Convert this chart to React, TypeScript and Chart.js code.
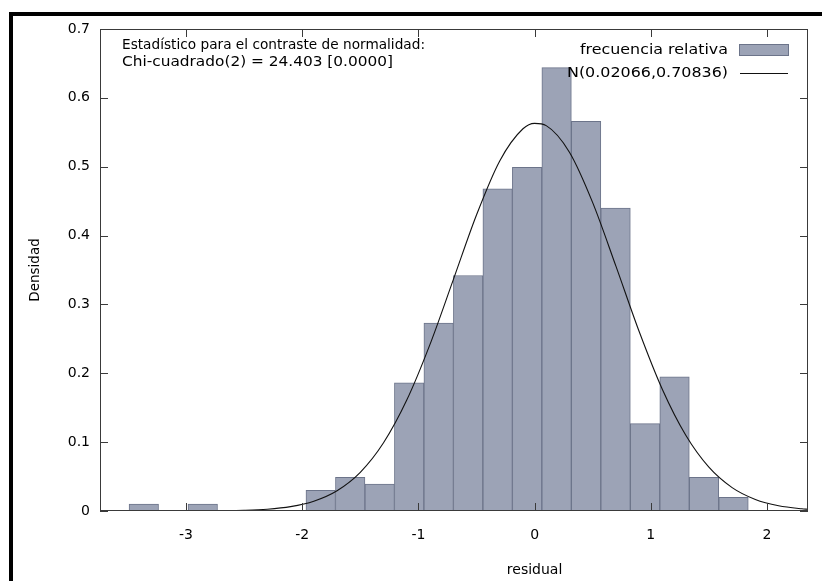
import React, { useEffect, useRef } from "react";
import { Chart, registerables } from "chart.js";

Chart.register(...registerables);

// Histogram bins (centres) and relative-frequency densities
const BIN_CENTERS = [
  -3.3631, -3.1094, -2.8556, -2.6019, -2.3481, -2.0943, -1.8406, -1.5868,
  -1.3331, -1.0793, -0.8256, -0.5718, -0.318, -0.0643, 0.1895, 0.4432,
  0.697, 0.9507, 1.2045, 1.4582, 1.712,
];
const DENSITY = [
  0.01, null, 0.01, null, null, null, 0.03, 0.049, 0.039, 0.186, 0.273,
  0.342, 0.468, 0.499, 0.644, 0.566, 0.44, 0.127, 0.195, 0.049, 0.02,
];

// Normal curve N(0.02066, 0.70836), tabulated
const CURVE_X = [
  -3.74, -3.5, -3.3, -3.1, -2.9, -2.7, -2.5, -2.3, -2.1, -1.9, -1.7, -1.5,
  -1.3, -1.1, -0.9, -0.7, -0.5, -0.3, -0.1, 0.0, 0.1, 0.3, 0.5, 0.7, 0.9,
  1.1, 1.3, 1.5, 1.7, 1.9, 2.1, 2.3, 2.353,
];
const CURVE_Y = [
  0.0, 0.0, 0.0, 0.0, 0.0001, 0.0004, 0.001, 0.0026, 0.0064, 0.0143, 0.0295,
  0.0562, 0.0991, 0.1611, 0.242, 0.3357, 0.4299, 0.5084, 0.5551, 0.563,
  0.5597, 0.5211, 0.4479, 0.3556, 0.2606, 0.1764, 0.1103, 0.0636, 0.0339,
  0.0167, 0.0076, 0.0032, 0.0025,
];

const X_TICKS = [-3, -2, -1, 0, 1, 2];
const Y_TICKS = [0, 0.1, 0.2, 0.3, 0.4, 0.5, 0.6, 0.7];
const X_MIN = -3.74;
const X_MAX = 2.353;
const Y_MIN = 0;
const Y_MAX = 0.7;

const NOTE_LINES = [
  "Estadístico para el contraste de normalidad:",
  "Chi-cuadrado(2) = 24.403 [0.0000]",
];
const LEGEND_BARS = "frecuencia relativa";
const LEGEND_CURVE = "N(0.02066,0.70836)";
const X_TITLE = "residual";
const Y_TITLE = "Densidad";

const FONT = "'DejaVu Sans', sans-serif";
const BAR_FILL = "rgb(156,163,182)";
const BAR_EDGE = "rgb(108,116,138)";
const FRAME = "#3a3a3a";

function fitText(ctx: any, text: string, x: number, y: number, width: number) {
  const w = ctx.measureText(text).width;
  ctx.save();
  ctx.translate(x, y);
  ctx.scale(width / w, 1);
  ctx.textAlign = "left";
  ctx.fillText(text, 0, 0);
  ctx.restore();
}

const decorPlugin = {
  id: "decor",
  beforeDraw(chart: any) {
    const { ctx, width, height } = chart;
    ctx.save();
    ctx.fillStyle = "#ffffff";
    ctx.fillRect(0, 0, width, height);
    ctx.fillStyle = "#000000";
    ctx.fillRect(9, 12, width - 9, 4);
    ctx.fillRect(9, 12, 4, height - 12);
    ctx.restore();
  },
  afterDatasetsDraw(chart: any) {
    const { ctx, chartArea: a, scales } = chart;
    const xs = scales.x;
    const ys = scales.y;
    ctx.save();
    ctx.strokeStyle = FRAME;
    ctx.lineWidth = 1;
    ctx.strokeRect(a.left + 0.5, a.top + 0.5, a.right - a.left - 1, a.bottom - a.top - 1);
    ctx.beginPath();
    const TL = 8;
    for (const t of X_TICKS) {
      const px = Math.round(xs.getPixelForValue(t)) + 0.5;
      ctx.moveTo(px, a.bottom);
      ctx.lineTo(px, a.bottom - TL);
      ctx.moveTo(px, a.top);
      ctx.lineTo(px, a.top + TL);
    }
    for (const t of Y_TICKS) {
      const py = Math.round(ys.getPixelForValue(t)) + 0.5;
      ctx.moveTo(a.left, py);
      ctx.lineTo(a.left + TL, py);
      ctx.moveTo(a.right, py);
      ctx.lineTo(a.right - TL, py);
    }
    ctx.stroke();

    ctx.fillStyle = "#000";
    ctx.textBaseline = "middle";
    ctx.font = "14.5px " + FONT;

    // annotation
    fitText(ctx, NOTE_LINES[0], 122, 45, 303);
    fitText(ctx, NOTE_LINES[1], 122, 62, 271);

    // legend
    fitText(ctx, LEGEND_BARS, 580, 50, 148);
    fitText(ctx, LEGEND_CURVE, 567, 73, 161);
    ctx.fillStyle = BAR_FILL;
    ctx.fillRect(739, 44, 50, 12);
    ctx.strokeStyle = BAR_EDGE;
    ctx.strokeRect(739.5, 44.5, 49, 11);
    ctx.strokeStyle = "#111";
    ctx.beginPath();
    ctx.moveTo(740, 73.5);
    ctx.lineTo(788, 73.5);
    ctx.stroke();

    // x-axis title
    ctx.fillStyle = "#000";
    ctx.font = "14px " + FONT;
    ctx.textAlign = "center";
    ctx.fillText(X_TITLE, xs.getPixelForValue(0), 570);
    ctx.restore();
  },
};

export default function App() {
  const ref = useRef<HTMLCanvasElement | null>(null);
  useEffect(() => {
    if (!ref.current) return;
    const barData = BIN_CENTERS.map((x, i) => ({ x, y: DENSITY[i] }));
    const curveData = CURVE_X.map((x, i) => ({ x, y: CURVE_Y[i] }));
    const chart = new Chart(ref.current, {
      type: "bar",
      data: {
        datasets: [
          {
            type: "line",
            label: LEGEND_CURVE,
            data: curveData as any,
            borderColor: "#111",
            borderWidth: 1.1,
            pointRadius: 0,
            cubicInterpolationMode: "monotone",
            fill: false,
            order: 0,
          } as any,
          {
            type: "bar",
            label: LEGEND_BARS,
            data: barData as any,
            backgroundColor: BAR_FILL,
            borderColor: BAR_EDGE,
            borderWidth: 1,
            borderSkipped: false,
            barPercentage: 1,
            categoryPercentage: 1,
            order: 1,
          } as any,
        ],
      },
      options: {
        animation: false,
        responsive: false,
        devicePixelRatio: 1,
        layout: { padding: { left: 0, right: 14, top: 29, bottom: 0 } },
        plugins: {
          legend: { display: false },
          tooltip: { enabled: false },
        },
        scales: {
          x: {
            type: "linear",
            min: X_MIN,
            max: X_MAX,
            offset: false,
            grid: { display: false, drawTicks: false },
            border: { display: false },
            afterBuildTicks: (s: any) => {
              s.ticks = X_TICKS.map((v) => ({ value: v }));
            },
            afterFit: (s: any) => {
              s.height = 70;
            },
            ticks: {
              padding: 16,
              color: "#000",
              font: { family: FONT, size: 14 },
              callback: (v: any) => String(v),
            },
            title: { display: false },
          },
          y: {
            type: "linear",
            min: Y_MIN,
            max: Y_MAX,
            grid: { display: false, drawTicks: false },
            border: { display: false },
            afterBuildTicks: (s: any) => {
              s.ticks = Y_TICKS.map((v) => ({ value: v }));
            },
            afterFit: (s: any) => {
              s.width = 100;
            },
            ticks: {
              padding: 10,
              color: "#000",
              font: { family: FONT, size: 14 },
              callback: (v: any) => (v === 0 ? "0" : Number(v).toFixed(1)),
            },
            title: {
              display: true,
              text: Y_TITLE,
              color: "#000",
              font: { family: FONT, size: 13.5 },
              padding: { top: 27, bottom: 27 },
            },
          },
        },
      } as any,
      plugins: [decorPlugin],
    });
    return () => chart.destroy();
  }, []);
  return (
    <div style={{ position: "fixed", left: 0, top: 0, width: 822, height: 581 }}>
      <canvas ref={ref} width={822} height={581} style={{ width: 822, height: 581, display: "block" }} />
    </div>
  );
}
